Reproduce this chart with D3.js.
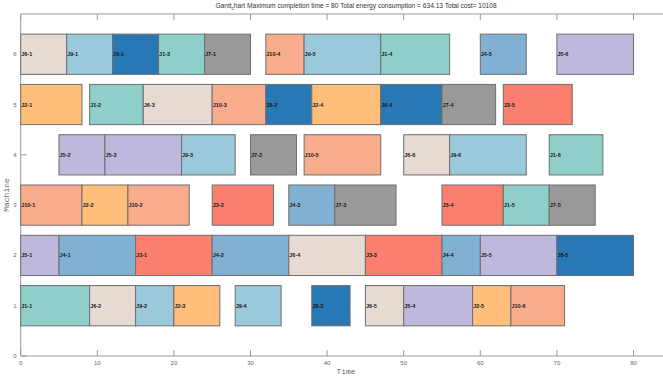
<!DOCTYPE html>
<html>
<head>
<meta charset="utf-8">
<script src="https://cdn.jsdelivr.net/npm/d3@7"></script>
<style>
  html, body { margin: 0; padding: 0; background: #fff; overflow: hidden; }
</style>
</head>
<body>
<div id="chart"></div>
<script>
// operations (job, op index, machine, start, end)
const jobs     = [1,6,9,2,9,8,6,5,2,10, 5,4,3,4,6,3,4,5,8, 10,2,10,3,4,7,3,1,7, 5,5,9,7,10,6,9,1, 2,1,6,10,8,2,8,7,3, 6,9,8,1,7,10,9,1,4,5];
const ops      = [1,2,2,3,4,3,5,4,5,6, 1,1,1,2,4,3,4,5,5, 1,2,2,2,3,3,4,5,5, 2,3,3,2,5,6,6,6, 1,2,3,3,2,4,4,4,5, 1,1,1,3,1,4,5,4,5,6];
const machines = [1,1,1,1,1,1,1,1,1,1, 2,2,2,2,2,2,2,2,2, 3,3,3,3,3,3,3,3,3, 4,4,4,4,4,4,4,4, 5,5,5,5,5,5,5,5,5, 6,6,6,6,6,6,6,6,6,6];
const starts   = [0,9,15,20,28,38,45,50,59,64, 0,5,15,25,35,45,55,60,70, 0,8,14,25,35,41,55,63,69, 5,11,21,30,37,50,56,69, 0,9,16,25,32,38,47,55,63, 0,6,12,18,24,32,37,47,60,70];
const ends     = [9,15,20,26,34,43,50,59,64,71, 5,15,25,35,45,55,60,70,80, 8,14,22,33,41,49,63,69,75, 11,21,28,36,47,56,66,76, 8,16,25,32,38,47,55,62,72, 6,12,18,24,30,37,47,56,66,80];

const jobColors = ["#8ECFC9","#FFBE7A","#FA7F6F","#82B0D2","#BEB8DC","#E7DAD2","#999999","#2878B5","#9AC9DB","#F8AC8C"];
const xTicks = [0,10,20,30,40,50,60,70,80];
const yTicks = [0,1,2,3,4,5,6];
const titleText = {pre: "Gantt", sub: "c", post: "hart Maximum completion time = 80 Total energy consumption = 634.13 Total cost= 10108"};

const W = 663, H = 378;
const plotLeft = 20.7, plotBottom = 356, plotTop = 14;

const svg = d3.select("#chart").append("svg")
  .attr("width", W)
  .attr("height", H);

const x = d3.scaleLinear().domain([0, 86]).range([plotLeft, plotLeft + 86 * 7.66]);
const y = d3.scaleLinear().domain([0, 6.8]).range([plotBottom, plotTop]);

const axisColor = "#9a9a9a";
const tickFont = "Liberation Sans, Arial, sans-serif";

// frame lines (bottom, top, left)
svg.append("line").attr("x1", plotLeft).attr("x2", W + 5).attr("y1", plotBottom).attr("y2", plotBottom)
  .attr("stroke", axisColor).attr("stroke-width", 1);
svg.append("line").attr("x1", plotLeft).attr("x2", W + 5).attr("y1", plotTop).attr("y2", plotTop)
  .attr("stroke", axisColor).attr("stroke-width", 1);
svg.append("line").attr("x1", plotLeft).attr("x2", plotLeft).attr("y1", plotTop).attr("y2", plotBottom)
  .attr("stroke", axisColor).attr("stroke-width", 1);

// x ticks, inward on bottom and top
const xt = svg.append("g").selectAll("g").data(xTicks).enter().append("g");
xt.append("line").attr("x1", d => x(d)).attr("x2", d => x(d)).attr("y1", plotBottom).attr("y2", plotBottom - 6)
  .attr("stroke", axisColor);
xt.append("line").attr("x1", d => x(d)).attr("x2", d => x(d)).attr("y1", plotTop).attr("y2", plotTop + 6)
  .attr("stroke", axisColor);
xt.append("text").attr("x", d => x(d)).attr("y", plotBottom + 9)
  .attr("text-anchor", "middle")
  .style("font-family", tickFont).style("font-size", "6px").style("fill", "#666")
  .text(d => d);

// y ticks, inward on left
const yt = svg.append("g").selectAll("g").data(yTicks).enter().append("g");
yt.append("line").attr("x1", plotLeft).attr("x2", plotLeft + 6).attr("y1", d => y(d)).attr("y2", d => y(d))
  .attr("stroke", axisColor);
yt.append("text").attr("x", plotLeft - 4).attr("y", d => y(d) + 2)
  .attr("text-anchor", "end")
  .style("font-family", tickFont).style("font-size", "6px").style("fill", "#666")
  .text(d => d);

// bars
const tasks = jobs.map((j, i) => ({job: j, op: ops[i], m: machines[i], s: starts[i], e: ends[i]}));
const barH = y(0) - y(0.8);

const bars = svg.append("g").selectAll("g").data(tasks).enter().append("g");
bars.append("rect")
  .attr("x", d => x(d.s))
  .attr("y", d => y(d.m + 0.4))
  .attr("width", d => x(d.e) - x(d.s))
  .attr("height", barH)
  .attr("fill", d => jobColors[d.job - 1])
  .attr("stroke", "#6e6e6e")
  .attr("stroke-width", 1);
bars.append("text")
  .attr("x", d => x(d.s) + 0.5)
  .attr("y", d => y(d.m) + 2)
  .style("font-family", tickFont).style("font-size", "5.5px").style("font-weight", "bold")
  .style("fill", "#1a1a1a")
  .text(d => `J${d.job}-${d.op}`);

// title
const title = svg.append("text")
  .attr("x", 356).attr("y", 8)
  .attr("text-anchor", "middle")
  .style("font-family", tickFont).style("font-size", "6.6px").style("fill", "#333");
title.append("tspan").text(titleText.pre);
title.append("tspan").attr("dy", 2).style("font-size", "4.5px").text(titleText.sub);
title.append("tspan").attr("dy", -2).text(titleText.post);

// axis labels
svg.append("text")
  .attr("x", 346).attr("y", 374)
  .attr("text-anchor", "middle")
  .style("font-family", "Liberation Mono, DejaVu Sans Mono, monospace").style("font-size", "8px").style("fill", "#666")
  .text("Time");
svg.append("text")
  .attr("transform", `translate(9,${(plotTop + plotBottom) / 2 + 10}) rotate(-90)`)
  .attr("text-anchor", "middle")
  .style("font-family", "Liberation Mono, DejaVu Sans Mono, monospace").style("font-size", "8px").style("fill", "#666")
  .text("Machine");
</script>
</body>
</html>
